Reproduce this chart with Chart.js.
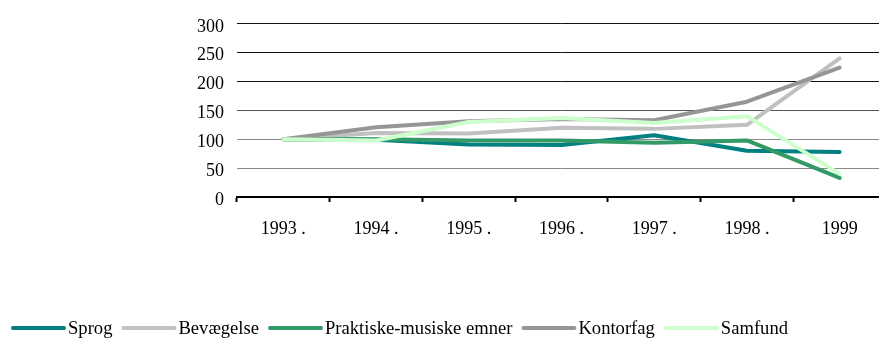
<!DOCTYPE html>
<html>
<head>
<meta charset="utf-8">
<script src="https://cdn.jsdelivr.net/npm/chart.js@4/dist/chart.umd.min.js"></script>
<style>
  html, body { margin: 0; padding: 0; background: #fff; overflow: hidden; }
  /* plot runs a few pixels past the right edge of the window */
  #wrap { width: 886px; height: 340px; position: relative; }
</style>
</head>
<body>
<div id="wrap"><canvas id="indexChart"></canvas></div>
<script>
const years = ['1993 .', '1994 .', '1995 .', '1996 .', '1997 .', '1998 .', '1999'];

const sprog = [100, 99, 91, 90, 107, 80, 78];
const bevaegelse = [100, 111, 110, 120, 118, 125, 240];
const praktiske = [100, 100, 98, 98, 94, 98, 33];
const kontorfag = [100, 121, 131, 135, 133, 165, 224];
const samfund = [100, 98, 130, 137, 128, 140, 40];

const seriesNames = ['Sprog', 'Bevægelse', 'Praktiske-musiske emner', 'Kontorfag', 'Samfund'];
const seriesValues = [sprog, bevaegelse, praktiske, kontorfag, samfund];
const seriesColors = ['#008080', '#c0c0c0', '#339966', '#969696', '#ccffcc'];

const serif = 'Liberation Serif, Times New Roman, serif';

// gridlines look heavier towards the top of the plot
function gridColor(ctx) {
  const v = ctx.tick ? ctx.tick.value : 0;
  if (v === 50 || v === 100) return '#8a8a8a';
  if (v === 150) return '#555';
  return '#111';
}

// legend row along the bottom: long line swatch, label right after it
const lineLegend = {
  id: 'lineLegend',
  afterDraw(chart) {
    const ctx = chart.ctx;
    const y = 328;
    let x = 11;
    ctx.save();
    ctx.font = '18.6px ' + serif;
    ctx.textBaseline = 'middle';
    ctx.textAlign = 'left';
    chart.data.datasets.forEach(ds => {
      ctx.strokeStyle = ds.borderColor;
      ctx.lineWidth = 4;
      ctx.lineCap = 'round';
      ctx.beginPath();
      ctx.moveTo(x + 2, y);
      ctx.lineTo(x + 53, y);
      ctx.stroke();
      ctx.fillStyle = '#000';
      ctx.fillText(ds.label, x + 57, y + 1);
      x += 57 + ctx.measureText(ds.label).width + 9;
    });
    ctx.restore();
  }
};

const datasets = seriesNames.map((name, i) => ({
  label: name,
  data: seriesValues[i],
  borderColor: seriesColors[i],
  backgroundColor: seriesColors[i],
  borderWidth: 4,
  borderCapStyle: 'round',
  borderJoinStyle: 'round',
  pointRadius: 0,
  tension: 0,
  // later series are painted on top
  order: seriesNames.length - i
}));

new Chart(document.getElementById('indexChart'), {
  type: 'line',
  data: { labels: years, datasets: datasets },
  plugins: [lineLegend],
  options: {
    responsive: true,
    maintainAspectRatio: false,
    animation: false,
    layout: { padding: { top: 20, right: 0, bottom: 31, left: 0 } },
    plugins: {
      tooltip: { enabled: false },
      legend: { display: false }
    },
    scales: {
      x: {
        offset: true,
        grid: {
          offset: true,
          drawOnChartArea: false,
          drawTicks: true,
          tickLength: 5,
          tickWidth: 2,
          tickColor: '#000'
        },
        border: { display: true, color: '#000', width: 2 },
        ticks: {
          color: '#000',
          padding: 16,
          maxRotation: 0,
          autoSkip: false,
          font: { family: serif, size: 18 }
        },
        afterFit: (scale) => { scale.height = 112; }
      },
      y: {
        min: 0,
        max: 300,
        grid: { color: gridColor, lineWidth: 1, drawTicks: false },
        border: { display: false },
        ticks: {
          stepSize: 50,
          color: '#000',
          padding: 13,
          labelOffset: 3,
          font: { family: serif, size: 18 }
        },
        afterFit: (scale) => { scale.width = 237; }
      }
    }
  }
});
</script>
</body>
</html>
